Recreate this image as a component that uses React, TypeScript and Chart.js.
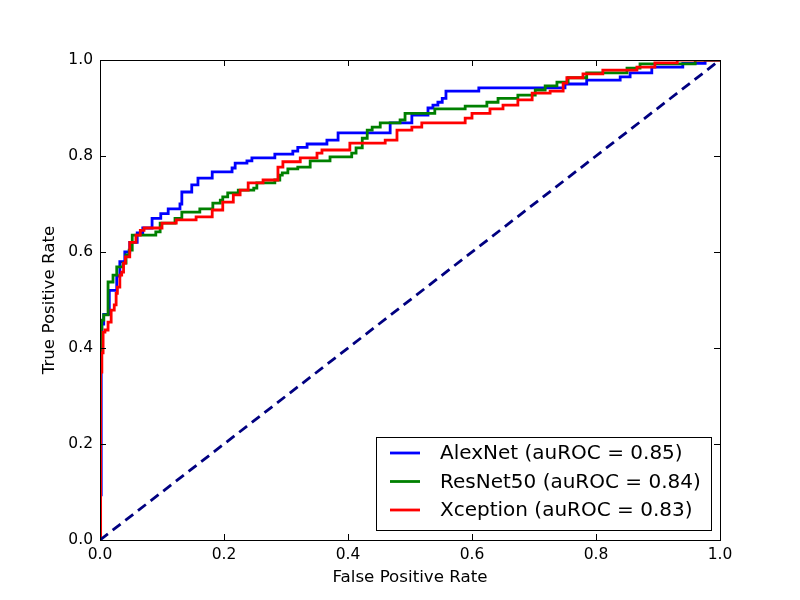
import { useEffect, useRef } from 'react';
import { Chart } from 'chart.js/auto';

// ROC points (fpr = right end of each flat run, tpr = its level)
const alexnetFpr = [0, 0.002, 0.003, 0.006, 0.015, 0.027, 0.032, 0.04, 0.048, 0.06, 0.069, 0.084, 0.098, 0.11, 0.129, 0.132, 0.148, 0.158, 0.181, 0.213, 0.218, 0.237, 0.245, 0.282, 0.311, 0.319, 0.334, 0.366, 0.384, 0.468, 0.503, 0.529, 0.537, 0.545, 0.552, 0.558, 0.611, 0.75, 0.785, 0.839, 0.855, 0.89, 0.94, 0.976, 1.0];
const alexnetTpr = [0, 0.094, 0.42, 0.45, 0.47, 0.52, 0.55, 0.58, 0.6, 0.62, 0.64, 0.65, 0.67, 0.68, 0.69, 0.7, 0.725, 0.74, 0.754, 0.767, 0.775, 0.785, 0.79, 0.796, 0.804, 0.81, 0.818, 0.825, 0.833, 0.848, 0.869, 0.885, 0.9, 0.906, 0.912, 0.92, 0.935, 0.942, 0.95, 0.958, 0.965, 0.973, 0.985, 0.993, 1.0];

const resnetFpr = [0, 0.001, 0.003, 0.006, 0.013, 0.021, 0.027, 0.037, 0.042, 0.047, 0.052, 0.09, 0.097, 0.121, 0.132, 0.161, 0.182, 0.194, 0.198, 0.206, 0.223, 0.248, 0.253, 0.282, 0.29, 0.294, 0.303, 0.319, 0.339, 0.371, 0.406, 0.413, 0.423, 0.431, 0.439, 0.452, 0.484, 0.492, 0.54, 0.589, 0.624, 0.642, 0.674, 0.702, 0.718, 0.737, 0.755, 0.785, 0.85, 0.871, 0.96, 1.0];
const resnetTpr = [0, 0.3, 0.44, 0.458, 0.469, 0.5375, 0.552, 0.569, 0.577, 0.594, 0.604, 0.635, 0.642, 0.66, 0.67, 0.683, 0.69, 0.702, 0.708, 0.715, 0.723, 0.729, 0.733, 0.744, 0.75, 0.76, 0.765, 0.773, 0.777, 0.79, 0.798, 0.806, 0.817, 0.837, 0.854, 0.86, 0.869, 0.875, 0.889, 0.898, 0.904, 0.912, 0.92, 0.927, 0.9375, 0.946, 0.954, 0.963, 0.973, 0.983, 0.992, 1.0];

const xceptionFpr = [0, 0.001, 0.003, 0.005, 0.008, 0.013, 0.018, 0.023, 0.026, 0.028, 0.032, 0.035, 0.038, 0.041, 0.048, 0.058, 0.065, 0.071, 0.1, 0.123, 0.155, 0.181, 0.198, 0.215, 0.226, 0.239, 0.263, 0.287, 0.295, 0.323, 0.35, 0.358, 0.403, 0.46, 0.479, 0.503, 0.519, 0.589, 0.6, 0.629, 0.65, 0.674, 0.697, 0.726, 0.747, 0.753, 0.779, 0.811, 0.866, 0.895, 0.931, 1.0];
const xceptionTpr = [0, 0, 0.35, 0.39, 0.433, 0.4375, 0.454, 0.479, 0.49, 0.514, 0.527, 0.552, 0.558, 0.577, 0.59, 0.62, 0.635, 0.645, 0.65, 0.66, 0.667, 0.673, 0.6875, 0.704, 0.719, 0.729, 0.744, 0.75, 0.777, 0.788, 0.796, 0.806, 0.8125, 0.827, 0.833, 0.854, 0.86, 0.869, 0.879, 0.889, 0.898, 0.906, 0.917, 0.931, 0.935, 0.952, 0.963, 0.971, 0.979, 0.985, 0.994, 1.0];

const modelNames = ['AlexNet (auROC = 0.85)', 'ResNet50 (auROC = 0.84)', 'Xception (auROC = 0.83)'];
const modelColors = ['#0000ff', '#008000', '#ff0000'];
const chanceLine = [0, 1];
const tickValues = [0, 0.2, 0.4, 0.6, 0.8, 1.0];

const FONT = '"DejaVu Sans", sans-serif';

const toPoints = (xs, ys) => xs.map((x, i) => ({ x, y: ys[i] }));

// matplotlib-style frame: four spines, inward ticks on every side
const framePlugin = {
  id: 'frame',
  afterDatasetsDraw(chart) {
    const { ctx, chartArea: a, scales } = chart;
    ctx.save();
    ctx.strokeStyle = '#000';
    ctx.lineWidth = 1;
    ctx.strokeRect(Math.round(a.left) + 0.5, Math.round(a.top) + 0.5, Math.round(a.right - a.left), Math.round(a.bottom - a.top));
    const len = 6;
    ctx.beginPath();
    for (const v of tickValues) {
      const px = Math.round(scales.x.getPixelForValue(v)) + 0.5;
      ctx.moveTo(px, a.bottom);
      ctx.lineTo(px, a.bottom - len);
      ctx.moveTo(px, a.top);
      ctx.lineTo(px, a.top + len);
      const py = Math.round(scales.y.getPixelForValue(v)) + 0.5;
      ctx.moveTo(a.left, py);
      ctx.lineTo(a.left + len, py);
      ctx.moveTo(a.right, py);
      ctx.lineTo(a.right - len, py);
    }
    ctx.stroke();
    ctx.restore();
  },
};

// boxed legend in the lower right of the axes
const boxLegendPlugin = {
  id: 'boxLegend',
  afterDraw(chart) {
    const { ctx, chartArea: a } = chart;
    const items = chart.data.datasets.filter((d) => d.label);
    const w = 335;
    const h = 93;
    const x0 = a.right - 9 - w;
    const y0 = a.bottom - 10 - h;
    ctx.save();
    ctx.fillStyle = '#fff';
    ctx.fillRect(x0, y0, w, h);
    ctx.strokeStyle = '#000';
    ctx.lineWidth = 1;
    ctx.strokeRect(Math.round(x0) + 0.5, Math.round(y0) + 0.5, w, h);
    ctx.font = `20px ${FONT}`;
    ctx.textBaseline = 'middle';
    items.forEach((d, i) => {
      const y = y0 + 16 + i * 28.5;
      ctx.strokeStyle = d.borderColor;
      ctx.lineWidth = 2.8;
      ctx.beginPath();
      ctx.moveTo(x0 + 14, y);
      ctx.lineTo(x0 + 44, y);
      ctx.stroke();
      ctx.fillStyle = '#000';
      ctx.fillText(d.label, x0 + 64, y + 1);
    });
    ctx.restore();
  },
};

export default function App() {
  const canvasRef = useRef(null);

  useEffect(() => {
    if (!canvasRef.current) return;
    const ctx = canvasRef.current.getContext('2d');
    if (!ctx) return;

    Chart.defaults.font.family = FONT;
    Chart.defaults.color = '#000';

    const curves = [
      toPoints(alexnetFpr, alexnetTpr),
      toPoints(resnetFpr, resnetTpr),
      toPoints(xceptionFpr, xceptionTpr),
    ];

    const chart = new Chart(ctx, {
      type: 'line',
      data: {
        datasets: [
          ...curves.map((pts, i) => ({
            label: modelNames[i],
            data: pts,
            borderColor: modelColors[i],
            borderWidth: 2.8,
            stepped: 'after',
            pointRadius: 0,
            fill: false,
            order: 3 - i,
          })),
          {
            label: '',
            data: toPoints(chanceLine, chanceLine),
            borderColor: '#000080',
            borderWidth: 2.8,
            borderDash: [10, 6],
            pointRadius: 0,
            fill: false,
            order: 0,
          },
        ],
      },
      options: {
        responsive: false,
        animation: false,
        layout: { padding: { top: 60, right: 80, bottom: 0, left: 0 } },
        plugins: {
          legend: { display: false },
          tooltip: { enabled: false },
        },
        scales: {
          x: {
            type: 'linear',
            min: 0,
            max: 1,
            grid: { display: false, drawTicks: false },
            border: { display: false },
            ticks: {
              stepSize: 0.2,
              padding: 6,
              font: { size: 15.5 },
              callback: (v) => Number(v).toFixed(1),
            },
            title: {
              display: true,
              text: 'False Positive Rate',
              font: { size: 16.7 },
              padding: { top: 12, bottom: 12 },
            },
            afterFit: (scale) => {
              scale.height = 60;
            },
          },
          y: {
            type: 'linear',
            min: 0,
            max: 1,
            grid: { display: false, drawTicks: false },
            border: { display: false },
            ticks: {
              stepSize: 0.2,
              padding: 7,
              font: { size: 15.5 },
              callback: (v) => Number(v).toFixed(1),
            },
            title: {
              display: true,
              text: 'True Positive Rate',
              font: { size: 16.7 },
              padding: { top: 40, bottom: 40 },
            },
            afterFit: (scale) => {
              scale.width = 100;
            },
          },
        },
      },
      plugins: [framePlugin, boxLegendPlugin],
    });

    return () => {
      chart.destroy();
    };
  }, []);

  return (
    <div style={{ position: 'absolute', left: 0, top: 0, width: 800, height: 600, background: '#fff' }}>
      <canvas ref={canvasRef} width={800} height={600} />
    </div>
  );
}
